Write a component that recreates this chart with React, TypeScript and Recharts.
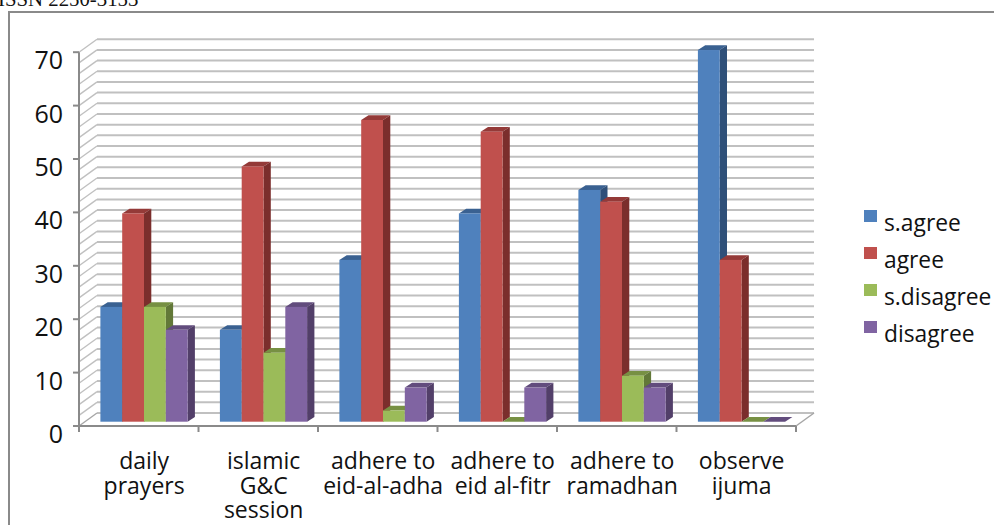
import React from "react";
import { BarChart, Bar, XAxis, YAxis, CartesianGrid, Legend } from "recharts";

// Survey responses per religious practice (percent of respondents)
const categories = ["daily prayers", "islamic G&C session", "adhere to eid-al-adha", "adhere to eid al-fitr", "adhere to ramadhan", "observe ijuma"];
const categoryLines = [["daily", "prayers"], ["islamic", "G&C", "session"], ["adhere to", "eid-al-adha"], ["adhere to", "eid al-fitr"], ["adhere to", "ramadhan"], ["observe", "ijuma"]];
const sAgree = [21.5, 17.2, 30.3, 39, 43.4, 69.6];
const agree = [39, 47.8, 56.5, 54.3, 41.2, 30.3];
const sDisagree = [21.5, 12.9, 2.1, 0, 8.6, 0];
const disagree = [17.2, 21.5, 6.4, 6.4, 6.4, 0];
const yTicks = [0, 10, 20, 30, 40, 50, 60, 70];
const gridValues = Array.from({ length: 36 }, (_, i) => i * 2);

const rows = categories.map((name, i) => ({
  name,
  sAgree: sAgree[i],
  agree: agree[i],
  sDisagree: sDisagree[i],
  disagree: disagree[i],
}));

const FONT = "'Open Sans', sans-serif";
const TEXT = "#111";
const AXIS = "#8a8a8a";
const GRID = "#c0c0c0";

// Pseudo-3D geometry: bars stand between a front floor edge and a back wall.
const BAR_DX = 7.3;
const BAR_DY = 4.7;
const FRONT_DX = 5.4;
const FRONT_DY = 4.3;
const BACK_DX = 12.6;
const BACK_DY = 8.7;
const BAND = 119.5;

const Box = (props: any) => {
  const { x, y, width, height, faces } = props;
  const r = x + width;
  const b = y + height;
  return (
    <g>
      <polygon points={`${x},${y} ${x + BAR_DX},${y - BAR_DY} ${r + BAR_DX},${y - BAR_DY} ${r},${y}`} fill={faces.top} />
      <polygon points={`${r},${y} ${r + BAR_DX},${y - BAR_DY} ${r + BAR_DX},${b - BAR_DY} ${r},${b}`} fill={faces.side} />
      {height > 0 && <rect x={x} y={y} width={width} height={height} fill={faces.front} />}
    </g>
  );
};

const series = [
  { key: "sAgree", label: "s.agree", faces: { front: "#4f81bd", side: "#2f5079", top: "#3a6191" } },
  { key: "agree", label: "agree", faces: { front: "#c0504d", side: "#7b2e2c", top: "#943a38" } },
  { key: "sDisagree", label: "s.disagree", faces: { front: "#9bbb59", side: "#627838", top: "#779043" } },
  { key: "disagree", label: "disagree", faces: { front: "#8064a2", side: "#523f69", top: "#624c7d" } },
];

// One horizontal wall line plus its slanted run down the left side wall.
const WallLine = (p: any) => {
  const { x1, x2, y1, index } = p;
  const isFloor = Math.abs(y1 - 421.7) < 0.5;
  return (
    <g key={`wall-${index}`}>
      <line x1={x1 + BACK_DX} x2={x2 + BACK_DX} y1={y1 - BACK_DY} y2={y1 - BACK_DY} stroke={GRID} strokeWidth={2} />
      <line x1={x1 - FRONT_DX} x2={x1 + BACK_DX} y1={y1 + FRONT_DY} y2={y1 - BACK_DY} stroke={isFloor ? "#a6a6a6" : GRID} strokeWidth={1.4} />
      {isFloor && (
        <>
          <line x1={x2 - FRONT_DX} x2={x2 + BACK_DX} y1={y1 + FRONT_DY} y2={y1 - BACK_DY} stroke="#a6a6a6" strokeWidth={1.5} />
          <line x1={x1 - FRONT_DX} x2={x2 - FRONT_DX} y1={y1 + FRONT_DY} y2={y1 + FRONT_DY} stroke={AXIS} strokeWidth={2} />
        </>
      )}
    </g>
  );
};

// The value axis line sits on the front edge of the side wall.
const ValueAxisLine = (p: any) => (
  <line
    key="value-axis"
    x1={p.x1 - FRONT_DX}
    x2={p.x1 - FRONT_DX}
    y1={p.y1 + FRONT_DY}
    y2={p.y2 + FRONT_DY}
    stroke={AXIS}
    strokeWidth={2}
  />
);

const ValueTick = (p: any) => {
  const y = p.y + FRONT_DY;
  return (
    <g>
      <line x1={73} x2={79} y1={y} y2={y} stroke={AXIS} strokeWidth={2} />
      <text x={63} y={y + 17} textAnchor="end" fontFamily={FONT} fontSize={25} fill={TEXT}>
        {p.payload.value}
      </text>
    </g>
  );
};

const CategoryTick = (p: any) => {
  const lines = categoryLines[p.index] || [];
  const left = p.x - BAND / 2 - FRONT_DX;
  const last = p.index === categories.length - 1;
  return (
    <g>
      <line x1={left} x2={left} y1={426} y2={432} stroke={AXIS} strokeWidth={2} />
      {last && <line x1={left + BAND} x2={left + BAND} y1={426} y2={432} stroke={AXIS} strokeWidth={2} />}
      <text textAnchor="middle" fontFamily={FONT} fontSize={23} fill={TEXT}>
        {lines.map((t: string, i: number) => (
          <tspan key={t} x={p.x} y={469 + i * 24.6}>
            {t}
          </tspan>
        ))}
      </text>
    </g>
  );
};

const LegendBlock = () => (
  <div style={{ position: "relative", width: 140, height: 160 }}>
    {series.map((s, i) => (
      <React.Fragment key={s.key}>
        <div style={{ position: "absolute", left: 0, top: i * 37, width: 13, height: 12, background: s.faces.front }} />
        <div style={{ position: "absolute", left: 20, top: i * 37 - 1, fontFamily: FONT, fontSize: 22.8, lineHeight: "28px", color: TEXT, whiteSpace: "nowrap" }}>
          {s.label}
        </div>
      </React.Fragment>
    ))}
  </div>
);

export default function App() {
  return (
    <div style={{ position: "absolute", left: 0, top: 0, width: 994, height: 525, overflow: "hidden", background: "#fff" }}>
      <div style={{ position: "absolute", left: -2, top: -15, fontFamily: "'Liberation Serif', serif", fontSize: 20.8, lineHeight: "28px", color: "#111", whiteSpace: "nowrap" }}>
        ISSN 2250-3153
      </div>
      <div style={{ position: "absolute", left: 8, top: 11, width: 1100, height: 700, borderLeft: "2px solid #8a8a8a", borderTop: "2px solid #8a8a8a" }} />
      <div style={{ position: "absolute", left: 0, top: 0 }}>
        <BarChart
          width={994}
          height={525}
          data={rows}
          barSize={21.8}
          barGap={0}
          margin={{ left: 83.4, right: 192.6, top: 47.9, bottom: 102.3 }}
        >
          <CartesianGrid
            horizontalValues={gridValues}
            horizontal={WallLine}
            verticalPoints={[84.4]}
            vertical={ValueAxisLine}
            syncWithTicks={false}
          />
          <XAxis dataKey="name" height={1} axisLine={false} tickLine={false} interval={0} tick={CategoryTick} />
          <YAxis width={1} domain={[0, 70]} ticks={yTicks} axisLine={false} tickLine={false} interval={0} tick={ValueTick} />
          <Legend
            layout="vertical"
            align="center"
            verticalAlign="middle"
            wrapperStyle={{ left: 864, top: 210, width: 140, height: 160 }}
            content={LegendBlock}
          />
          {series.map((s) => (
            <Bar key={s.key} dataKey={s.key} name={s.label} isAnimationActive={false} shape={(p: any) => <Box {...p} faces={s.faces} />} />
          ))}
        </BarChart>
      </div>
    </div>
  );
}
